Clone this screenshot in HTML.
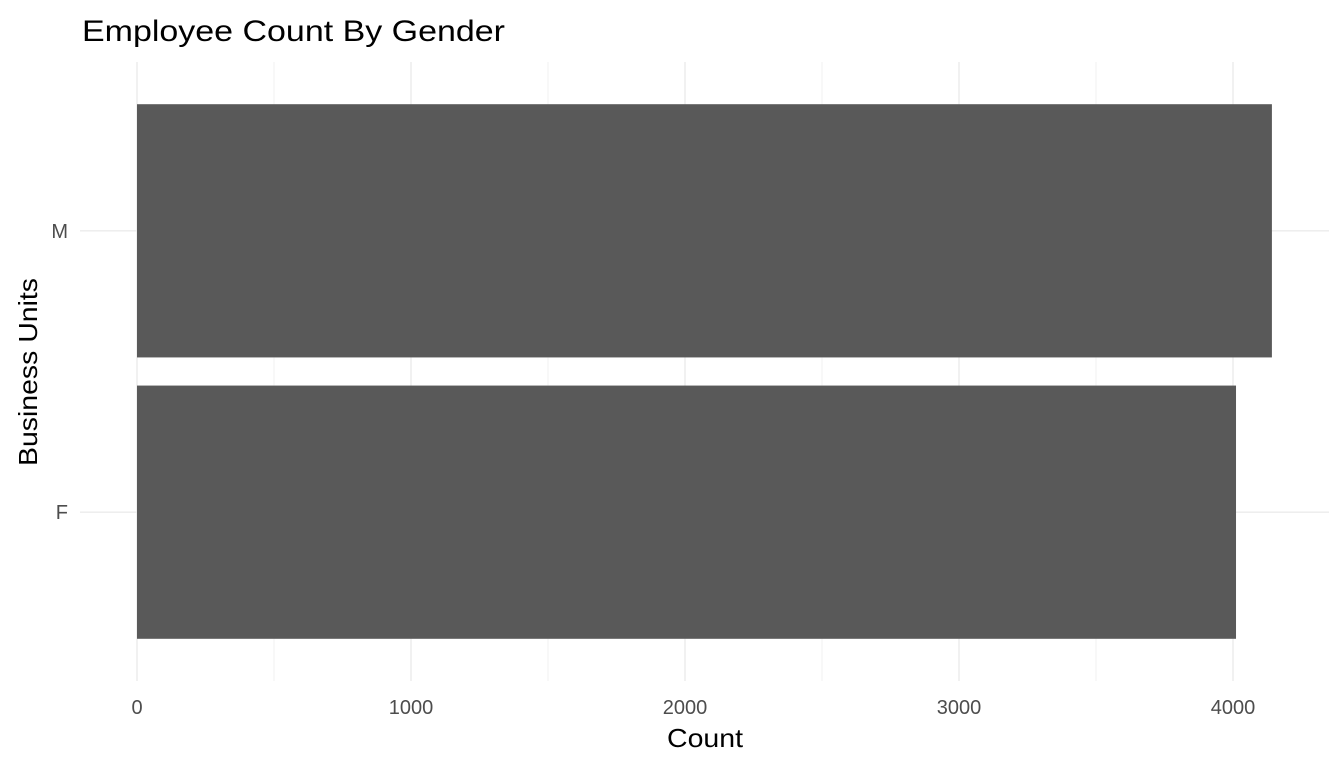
<!DOCTYPE html>
<html><head><meta charset="utf-8"><style>
html,body{margin:0;padding:0;background:#fff;}
svg{display:block;font-family:"Liberation Sans",Arial,sans-serif;}
</style></head><body>
<svg id="chart" width="1344" height="768">
<text x="82" y="41" font-size="30" textLength="423" lengthAdjust="spacingAndGlyphs" fill="#000">Employee Count By Gender</text>
<g id="grid"></g><g id="bars"></g><g id="xticks"></g><g id="yticks"></g>
<text x="705" y="747" font-size="26" textLength="76" lengthAdjust="spacingAndGlyphs" text-anchor="middle" fill="#000">Count</text>
<text transform="translate(37,372) rotate(-90)" font-size="26" textLength="188" lengthAdjust="spacingAndGlyphs" text-anchor="middle" fill="#000">Business Units</text>
</svg>
<script>
const categories = ["F","M"];
const counts = [4011, 4142];
const xTicks = [0,1000,2000,3000,4000];
const xMinor = [500,1500,2500,3500];
const NS="http://www.w3.org/2000/svg";
const px0=137, pxPer=0.274, plotTop=62, plotBot=681;
function xs(v){return px0+v*pxPer;}
const step=(plotBot-plotTop)/(categories.length-1+1.2);
function ys(i){return plotBot-0.6*step-i*step;}
function mk(tag,attrs,parent,text){const e=document.createElementNS(NS,tag);for(const k in attrs)e.setAttribute(k,attrs[k]);if(text!==undefined)e.textContent=text;document.getElementById(parent).appendChild(e);return e;}
xMinor.forEach(v=>{const l=mk('line',{x1:xs(v),x2:xs(v),y1:plotTop,y2:plotBot,stroke:'#f2f2f2','stroke-width':1},'grid');

});
xTicks.forEach(v=>{const l=mk('line',{x1:xs(v),x2:xs(v),y1:plotTop,y2:plotBot,stroke:'#ebebeb','stroke-width':1.4},'grid');


const t=mk('text',{x:xs(v),y:714,'font-size':20,'text-anchor':'middle',fill:'#4d4d4d'},'xticks',String(v));

});
categories.forEach((c,i)=>{const y=ys(i);
const l=mk('line',{x1:80,x2:1329,y1:y,y2:y,stroke:'#ebebeb','stroke-width':1.4},'grid');


const t=mk('text',{x:68,y:y+7,'font-size':20,'text-anchor':'end',fill:'#4d4d4d'},'yticks',c);


const h=step*0.9;
const b=mk('rect',{x:xs(0),y:y-h/2,width:xs(counts[i])-xs(0),height:h,fill:'#595959'},'bars');

});
</script>
</body></html>
